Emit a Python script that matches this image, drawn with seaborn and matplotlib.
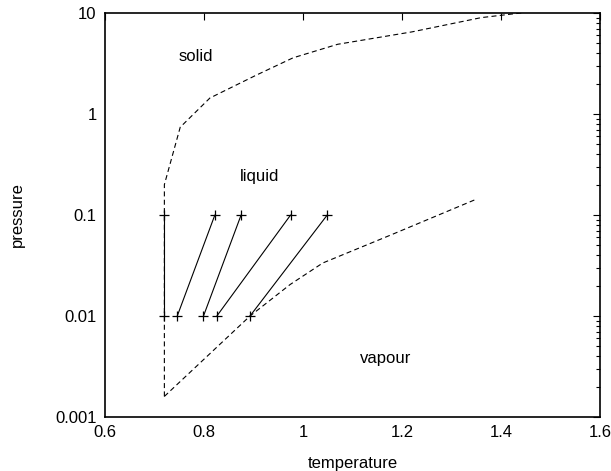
import matplotlib
matplotlib.use("Agg")
import matplotlib.pyplot as plt
import matplotlib.ticker as mticker
import numpy as np
import pandas as pd
import seaborn as sns

# Phase boundaries (temperature, pressure)
solid_T = [0.72, 0.72, 0.752, 0.812, 0.906, 0.98, 1.07, 1.22, 1.36, 1.44, 1.46]
solid_P = [0.0016, 0.2, 0.74, 1.44, 2.43, 3.6, 4.9, 6.5, 9.0, 10.0, 10.3]

vapour_T = [0.72, 0.893, 0.974, 1.04, 1.176, 1.351]
vapour_P = [0.0016, 0.01, 0.0205, 0.0335, 0.063, 0.144]

# Quench paths: each runs from low pressure to high pressure
path_T_low = [0.72, 0.746, 0.799, 0.826, 0.893]
path_T_high = [0.72, 0.822, 0.875, 0.975, 1.049]
path_P_low = 0.01
path_P_high = 0.1

x_ticks = [0.6, 0.8, 1.0, 1.2, 1.4, 1.6]
y_ticks = [0.001, 0.01, 0.1, 1, 10]

sns.set_style("white")
plt.rcParams["font.family"] = ["Liberation Sans", "DejaVu Sans"]
plt.rcParams["text.color"] = "black"
plt.rcParams["axes.labelcolor"] = "black"
plt.rcParams["xtick.color"] = "black"
plt.rcParams["ytick.color"] = "black"

fig = plt.figure(figsize=(6.11, 4.71), dpi=100)
ax = fig.add_axes([0.1718, 0.1146, 0.8102, 0.8578])

boundaries = pd.DataFrame({
    "T": solid_T + vapour_T,
    "P": solid_P + vapour_P,
    "curve": ["solid"] * len(solid_T) + ["vapour"] * len(vapour_T),
})
for name, grp in boundaries.groupby("curve"):
    sns.lineplot(data=grp, x="T", y="P", sort=False, estimator=None, ax=ax,
                 color="black", linewidth=0.8, dashes=False,
                 linestyle=(0, (4.5, 3)))

paths = pd.DataFrame({
    "T": [t for pair in zip(path_T_low, path_T_high) for t in pair],
    "P": [path_P_low, path_P_high] * len(path_T_low),
    "run": np.repeat(np.arange(len(path_T_low)), 2),
})
sns.lineplot(data=paths, x="T", y="P", units="run", estimator=None, sort=False,
             ax=ax, color="black", linewidth=0.8, marker="+", markersize=7,
             markeredgewidth=0.9, markeredgecolor="black")

ax.set_yscale("log")
ax.set_xlim(0.6, 1.6)
ax.set_ylim(0.001, 10)
ax.set_xticks(x_ticks)
ax.xaxis.set_major_formatter(mticker.FuncFormatter(lambda v, p: f"{v:g}"))
ax.set_yticks(y_ticks)
ax.yaxis.set_major_formatter(mticker.FuncFormatter(lambda v, p: f"{v:g}"))
ax.yaxis.set_minor_locator(mticker.LogLocator(base=10, subs=np.arange(2, 10)))
ax.yaxis.set_minor_formatter(mticker.NullFormatter())

ax.tick_params(which="both", direction="in", top=True, right=True,
               labelsize=12, color="black", labelcolor="black")
ax.tick_params(which="major", length=5, width=0.8, pad=6)
ax.tick_params(which="minor", length=2.8, width=0.8)
for s in ax.spines.values():
    s.set_color("black")
    s.set_linewidth(1.2)

ax.set_xlabel("temperature", fontsize=12, labelpad=11, color="black")
ax.set_ylabel("pressure", fontsize=12, labelpad=22, color="black")

ax.text(0.784, 3.75, "solid", fontsize=12, ha="center", va="center", color="black")
ax.text(0.913, 0.238, "liquid", fontsize=12, ha="center", va="center", color="black")
ax.text(1.166, 0.00384, "vapour", fontsize=12, ha="center", va="center", color="black")

fig.savefig("out.png", dpi=100)
